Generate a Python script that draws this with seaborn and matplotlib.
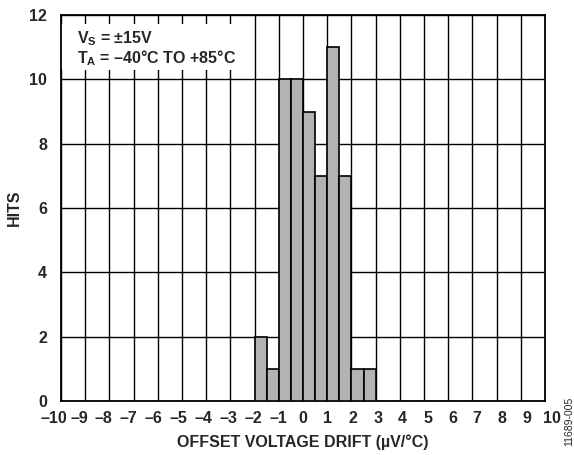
import matplotlib
matplotlib.use("Agg")
import matplotlib.pyplot as plt
from matplotlib.patches import Rectangle
from matplotlib.transforms import ScaledTranslation
import seaborn as sns

bin_left = [-2.0, -1.5, -1.0, -0.5, 0.0, 0.5, 1.0, 1.5, 2.0, 2.5]
hits = [2, 1, 10, 10, 9, 7, 11, 7, 1, 1]
x_ticks = list(range(-10, 11))
y_ticks = [0, 2, 4, 6, 8, 10, 12]

sns.set_style("white")
plt.rcParams['font.family'] = ['Liberation Sans', 'DejaVu Sans']
plt.rcParams['mathtext.fontset'] = 'custom'
plt.rcParams['mathtext.rm'] = 'Liberation Sans'
plt.rcParams['mathtext.bf'] = 'Liberation Sans:bold'

FS = 11.5
fig = plt.figure(figsize=(5.74, 4.55), dpi=100)
ax = fig.add_axes([61/574, 1-401/455, (545-61)/574, (401-15)/455])

centers = [b + 0.25 for b in bin_left]
sns.histplot(x=centers, weights=hits, binwidth=0.5, binrange=(-2, 3),
             color="#b3b3b3", edgecolor="black", linewidth=1.2, alpha=1,
             ax=ax, zorder=3)

ax.set_xlim(-10, 10)
ax.set_ylim(0, 12)
ax.set_xticks(x_ticks)
ax.set_yticks(y_ticks)
ax.set_xticklabels([str(t).replace('-', '\u2013') for t in x_ticks],
                   fontsize=FS, fontweight='bold')
ax.set_yticklabels([str(t) for t in y_ticks], fontsize=FS, fontweight='bold')
ax.tick_params(axis='x', length=0, pad=7)
ax.tick_params(axis='y', length=0, pad=10)
# labels are spread slightly wider than the grid in the reference
for lab, t in zip(ax.get_xticklabels(), x_ticks):
    lab.set_transform(lab.get_transform() +
                      ScaledTranslation(t * 0.007, 0, fig.dpi_scale_trans))
ax.grid(True, color='black', linewidth=1.0, zorder=0)
ax.set_axisbelow(True)
for s in ax.spines.values():
    s.set_color('black')
    s.set_linewidth(1.3)

ax.set_xlabel("OFFSET VOLTAGE DRIFT (\u00b5V/\u00b0C)", fontsize=FS,
              fontweight='bold', labelpad=6)
ax.set_ylabel("HITS", fontsize=FS, fontweight='bold')
ax.yaxis.set_label_coords(-0.08, 0.5)

# white area behind annotation
ax.add_patch(Rectangle((-10, 10.29), 7.6, 1.42, facecolor='white',
                       edgecolor='none', zorder=2))
ax.text(-9.34, 11.13, "$\\mathbf{V_S}$ = \u00b115V", fontsize=FS,
        fontweight='bold', va='baseline', ha='left', zorder=5)
ax.text(-9.34, 10.51, "$\\mathbf{T_A}$ = \u201340\u00b0C TO +85\u00b0C", fontsize=FS,
        fontweight='bold', va='baseline', ha='left', zorder=5)

fig.text(0.992, 0.075, "11689-005", rotation=90, fontsize=7.5, ha='center', va='center')

fig.savefig("out.png", dpi=100)
